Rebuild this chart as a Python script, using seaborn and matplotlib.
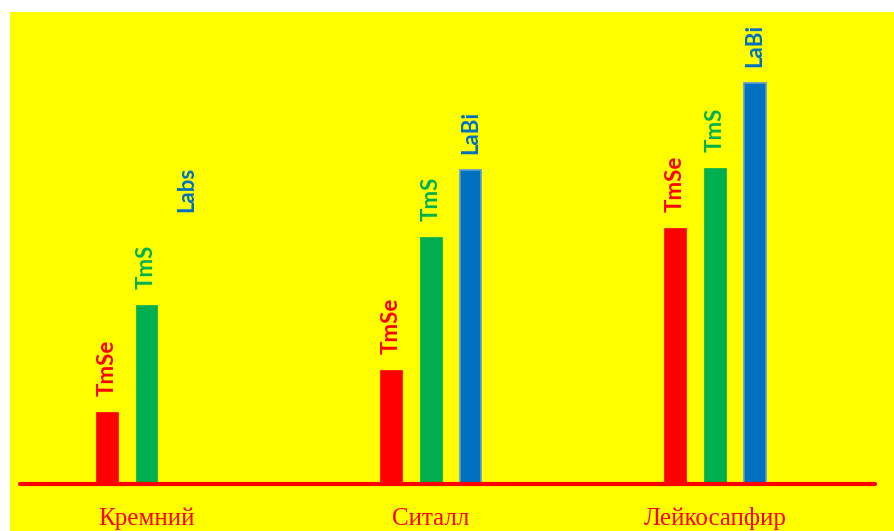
import matplotlib
matplotlib.use("Agg")
import matplotlib.pyplot as plt
import seaborn as sns
import pandas as pd
from matplotlib.patches import Rectangle

# ---- data ----
categories = ["Кремний", "Ситалл", "Лейкосапфир"]
series = ["TmSe", "TmS", "LaBi"]
tmse = [72, 114, 256]
tms = [179, 247, 316]
labi = [0, 314, 401]
bar_labels = [["TmSe", "TmS", "Labs"],
              ["TmSe", "TmS", "LaBi"],
              ["TmSe", "TmS", "LaBi"]]
colors = ["#ff0000", "#00b050", "#0070c0"]

rows = []
for i, c in enumerate(categories):
    for s, vals in zip(series, [tmse, tms, labi]):
        rows.append({"category": c, "series": s, "value": vals[i]})
df = pd.DataFrame(rows)

sns.set_theme(style="white")
fig = plt.figure(figsize=(8.95, 5.31), dpi=100)
fig.patch.set_facecolor("white")
bg = Rectangle((10 / 895, 0), 1 - 10 / 895, (531 - 12) / 531,
               transform=fig.transFigure, facecolor="#ffff00",
               edgecolor="none", zorder=-10)
fig.patches.append(bg)

ax = fig.add_axes([20 / 895, (531 - 484) / 531, 855 / 895, (484 - 12) / 531])
ax.set_facecolor("none")
ax.set_zorder(5)

sns.barplot(data=df, x="category", y="value", hue="series", order=categories,
            hue_order=series, palette=colors, width=0.42, gap=0.45,
            saturation=1, legend=False, ax=ax, zorder=2)

ax.set_xlim(-0.445, 2.563)
ax.set_ylim(0, 472)

# outlines
for si, cont in enumerate(ax.containers):
    for bar in cont:
        if si == 2:
            bar.set_edgecolor("#5b9bd5")
            bar.set_linewidth(1.2)
        else:
            bar.set_edgecolor(colors[si])
            bar.set_linewidth(0.5)

# baseline
ax.axhline(0, color="#ff0000", lw=3, zorder=3, clip_on=False)

# rotated labels above bars
for si, cont in enumerate(ax.containers):
    for ci, bar in enumerate(cont):
        h = bar.get_height()
        xc = bar.get_x() + bar.get_width() / 2
        y = h + 16 if h > 0 else 272
        ax.text(xc, y, bar_labels[ci][si], rotation=90, ha="center", va="bottom",
                color=colors[si], fontsize=16, fontweight="bold",
                family=["Lato", "DejaVu Sans"], zorder=4)

for s in ax.spines.values():
    s.set_visible(False)
ax.set_yticks([])
ax.set_xlabel("")
ax.set_ylabel("")
ax.tick_params(axis="x", length=0, pad=29.5)
for lab in ax.get_xticklabels():
    lab.set_color("#ff0000")
    lab.set_fontsize(18)
    lab.set_family(["Liberation Serif", "DejaVu Serif"])
    lab.set_verticalalignment("baseline")

fig.savefig("out.png", dpi=100, facecolor=fig.get_facecolor())
